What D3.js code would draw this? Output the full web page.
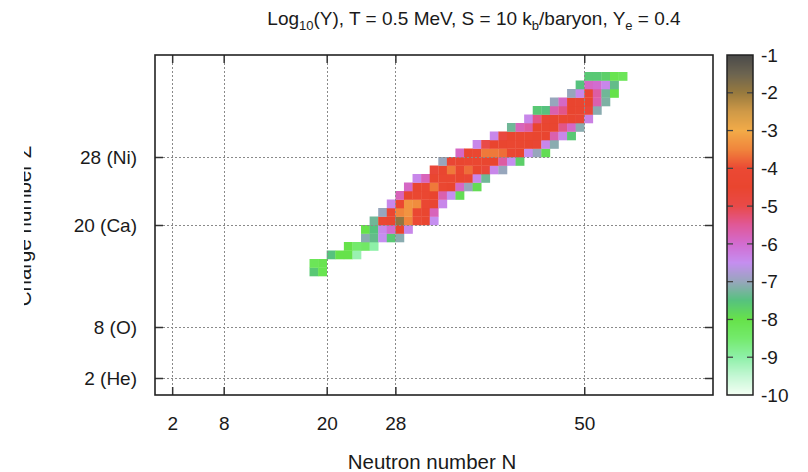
<!DOCTYPE html>
<html>
<head>
<meta charset="utf-8">
<script src="https://cdn.jsdelivr.net/npm/d3@7/dist/d3.min.js"></script>
<style>
  body { margin: 0; background: #fff; }
  svg { display: block; }
  text { font-family: "Liberation Sans", Arial, Helvetica, sans-serif; fill: #1a1a1a; }
</style>
</head>
<body>
<svg id="chart" width="808" height="472"></svg>
<script>
// Nuclide abundances, one row per proton number Z.
// Each row starts at firstNeutron[i] and runs over consecutive neutron numbers N.
const protonNumbers = [14, 15, 16, 17, 18, 19, 20, 21, 22, 23, 24, 25,
                       26, 27, 28, 29, 30, 31, 32, 33, 34, 35, 36, 37];
const firstNeutron  = [18, 18, 20, 22, 24, 24, 25, 26, 27, 28, 29, 30,
                       32, 33, 35, 37, 39, 41, 43, 44, 46, 48, 49, 50];
const log10Y = [
  [-7.6, -8.1],
  [-8.2, -8.1],
  [-7.5, -8.0, -8.0, -9.1],
  [-8.0, -8.5, -8.4, -9.0],
  [-7.1, -7.4, -6.5, -7.6, -7.1],
  [-8.0, -7.5, -6.4, -6.0, -4.5, -6.4],
  [-7.3, -4.3, -4.4, -1.9, -3.5, -4.0, -4.4, -6.5],
  [-7.0, -4.3, -3.5, -3.3, -4.2, -4.4, -5.8],
  [-6.4, -4.3, -3.3, -3.4, -4.2, -4.6, -6.4],
  [-5.8, -4.4, -4.3, -4.3, -4.5, -5.7, -6.5, -7.9],
  [-5.9, -4.4, -4.2, -3.6, -4.3, -4.5, -5.9, -7.0, -7.9],
  [-6.4, -5.8, -4.4, -4.3, -4.3, -4.4, -4.6, -6.4, -7.3],
  [-4.7, -4.4, -3.6, -4.3, -3.7, -4.4, -4.7, -6.4, -7.0],
  [-7.0, -4.6, -4.4, -4.3, -4.3, -4.4, -4.5, -5.6, -6.5, -7.7],
  [-5.9, -4.4, -4.3, -3.6, -3.6, -3.7, -4.3, -4.5, -6.5, -7.0, -7.9],
  [-6.4, -5.0, -4.5, -4.4, -4.3, -4.3, -4.4, -4.6, -6.4, -7.1],
  [-6.4, -4.8, -4.4, -4.3, -4.3, -4.4, -4.5, -5.7, -6.4, -7.6],
  [-7.3, -5.8, -5.6, -4.5, -4.4, -4.4, -5.4, -5.9, -7.1],
  [-6.4, -5.4, -4.6, -4.4, -4.3, -4.4, -4.6, -6.3],
  [-7.6, -7.5, -5.7, -5.4, -4.5, -4.4, -4.7, -7.1],
  [-7.0, -5.9, -4.5, -4.4, -4.5, -5.7, -7.2],
  [-7.0, -6.4, -4.6, -5.6, -7.3, -8.0],
  [-7.5, -5.9, -6.0, -6.4, -7.4],
  [-7.6, -7.6, -7.7, -8.1, -8.2]
];

// Axis ticks (magic numbers)
const neutronTicks = [2, 8, 20, 28, 50];
const protonTicks = [2, 8, 20, 28];
const protonTickLabels = ["2 (He)", "8 (O)", "20 (Ca)", "28 (Ni)"];
const colorTicks = [-1, -2, -3, -4, -5, -6, -7, -8, -9, -10];

// Palette stops for log10(Y)
const paletteValues = [-10, -9.5, -9, -8.5, -8, -7.5, -7, -6.5, -6, -5.5, -5, -4.5, -4, -3.5, -3, -2.5, -2, -1.5, -1];
const paletteColors = ["#f4fff4", "#c4f7d4", "#8ef0a8", "#74ea6c", "#66e24a", "#56c27e", "#97a6bc", "#c58ef0",
                       "#d26cd0", "#e05898", "#e94a48", "#e9452f", "#eb4934", "#f0853c", "#f2ab48", "#cf9947",
                       "#987a3e", "#6c6450", "#4a4a4a"];

const FONT = 19;
const svg = d3.select("#chart");
const plot = { left: 155, right: 713, top: 55, bottom: 395 };

const x = d3.scaleLinear().domain([0, 65]).range([plot.left, plot.right]);
const y = d3.scaleLinear().domain([0, 40]).range([plot.bottom, plot.top]);
const color = d3.scaleLinear().domain(paletteValues).range(paletteColors)
  .interpolate(d3.interpolateRgb).clamp(true);

// Flatten the rows into cells
const cells = [];
protonNumbers.forEach((z, i) => {
  log10Y[i].forEach((v, j) => cells.push({ n: firstNeutron[i] + j, z: z, v: v }));
});

// Heat-map cells: each covers [N, N+1] x [Z, Z+1]
svg.append("g").selectAll("rect").data(cells).join("rect")
  .attr("x", d => x(d.n))
  .attr("y", d => y(d.z + 1))
  .attr("width", d => x(d.n + 1) - x(d.n) + 0.3)
  .attr("height", d => y(d.z) - y(d.z + 1) + 0.3)
  .attr("fill", d => color(d.v));

// Dotted grid on top of the map
const grid = svg.append("g").attr("stroke", "#8a8a8a").attr("stroke-width", 1)
  .attr("stroke-dasharray", "2,2");
grid.selectAll(".gx").data(neutronTicks).join("line")
  .attr("x1", d => Math.round(x(d)) + 0.5).attr("x2", d => Math.round(x(d)) + 0.5)
  .attr("y1", plot.top).attr("y2", plot.bottom);
grid.selectAll(".gy").data(protonTicks).join("line")
  .attr("y1", d => Math.round(y(d)) + 0.5).attr("y2", d => Math.round(y(d)) + 0.5)
  .attr("x1", plot.left).attr("x2", plot.right);

// Axes with inward mirrored ticks
const tickLen = 8;
const xAxisBottom = d3.axisBottom(x).tickValues(neutronTicks).tickSizeInner(-tickLen).tickSizeOuter(0).tickPadding(22);
const xAxisTop = d3.axisTop(x).tickValues(neutronTicks).tickSizeInner(-tickLen).tickSizeOuter(0).tickFormat("");
const yAxisLeft = d3.axisLeft(y).tickValues(protonTicks).tickSizeInner(-tickLen).tickSizeOuter(0).tickPadding(18)
  .tickFormat((d, i) => protonTickLabels[i]);
const yAxisRight = d3.axisRight(y).tickValues(protonTicks).tickSizeInner(-tickLen).tickSizeOuter(0).tickFormat("");

function styleAxis(g) {
  g.select(".domain").remove();
  g.selectAll(".tick line").attr("stroke", "#333").attr("stroke-width", 1.5);
  g.selectAll(".tick text").attr("font-size", FONT).attr("fill", "#1a1a1a")
    .style("font-family", "'Liberation Sans', Arial, sans-serif");
}
svg.append("g").attr("transform", `translate(0,${plot.bottom})`).call(xAxisBottom).call(styleAxis);
svg.append("g").attr("transform", `translate(0,${plot.top})`).call(xAxisTop).call(styleAxis);
svg.append("g").attr("transform", `translate(${plot.left},0)`).call(yAxisLeft).call(styleAxis);
svg.append("g").attr("transform", `translate(${plot.right},0)`).call(yAxisRight).call(styleAxis);

// Plot frame
svg.append("rect")
  .attr("x", plot.left).attr("y", plot.top)
  .attr("width", plot.right - plot.left).attr("height", plot.bottom - plot.top)
  .attr("fill", "none").attr("stroke", "#222").attr("stroke-width", 1.6);

// Color bar
const cb = { left: 727, right: 753 };
const cbScale = d3.scaleLinear().domain([-10, -1]).range([plot.bottom, plot.top]);
const cbSteps = d3.range(plot.top, plot.bottom, 1);
svg.append("g").selectAll("rect").data(cbSteps).join("rect")
  .attr("x", cb.left).attr("width", cb.right - cb.left)
  .attr("y", d => d).attr("height", 1.2)
  .attr("fill", d => color(cbScale.invert(d + 0.5)));
const cbTicks = svg.append("g").attr("stroke", "#444").attr("stroke-width", 1.3);
cbTicks.selectAll(".l").data(colorTicks.slice(1, -1)).join("line")
  .attr("x1", cb.left).attr("x2", cb.left + 6)
  .attr("y1", d => cbScale(d)).attr("y2", d => cbScale(d));
cbTicks.selectAll(".r").data(colorTicks.slice(1, -1)).join("line")
  .attr("x1", cb.right - 6).attr("x2", cb.right)
  .attr("y1", d => cbScale(d)).attr("y2", d => cbScale(d));
svg.append("rect")
  .attr("x", cb.left).attr("y", plot.top)
  .attr("width", cb.right - cb.left).attr("height", plot.bottom - plot.top)
  .attr("fill", "none").attr("stroke", "#222").attr("stroke-width", 1.5);
svg.append("g").selectAll("text").data(colorTicks).join("text")
  .attr("x", 761).attr("y", d => cbScale(d)).attr("dy", "0.35em")
  .attr("font-size", FONT).text(d => d);

// Title with subscripts
const title = svg.append("text").attr("x", 474).attr("y", 25)
  .attr("text-anchor", "middle").attr("font-size", FONT);
title.append("tspan").text("Log");
title.append("tspan").attr("font-size", 13).attr("dy", 5).text("10");
title.append("tspan").attr("dy", -5).text("(Y), T = 0.5 MeV, S = 10 k");
title.append("tspan").attr("font-size", 13).attr("dy", 5).text("b");
title.append("tspan").attr("dy", -5).text("/baryon, Y");
title.append("tspan").attr("font-size", 13).attr("dy", 5).text("e");
title.append("tspan").attr("dy", -5).text(" = 0.4");

// Axis titles
svg.append("text").attr("x", 432).attr("y", 469).attr("text-anchor", "middle")
  .attr("font-size", 20.5).text("Neutron number N");

svg.append("clipPath").attr("id", "ylabel-clip")
  .append("rect").attr("x", 24).attr("y", 0).attr("width", 40).attr("height", 472);
svg.append("g").attr("clip-path", "url(#ylabel-clip)")
  .append("text")
  .attr("transform", "translate(31,226) rotate(-90)")
  .attr("text-anchor", "middle").attr("font-size", 20.5)
  .text("Charge number Z");
</script>
</body>
</html>
